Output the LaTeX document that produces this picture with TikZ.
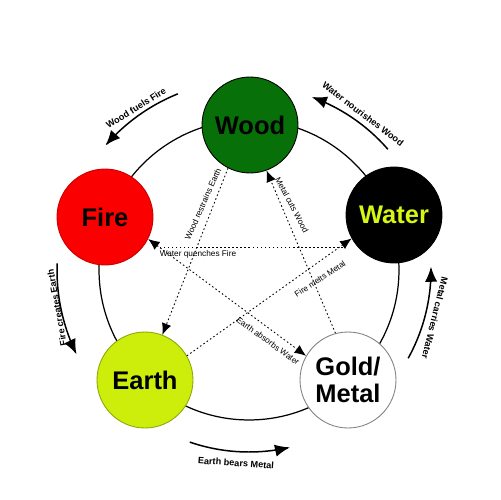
\documentclass[tikz,border=0pt]{standalone}
\usepackage{fontspec}
\setmainfont{Liberation Sans}
\usetikzlibrary{arrows.meta}
\definecolor{woodgreen}{RGB}{8,112,8}
\definecolor{firered}{RGB}{250,0,0}
\definecolor{earthyellow}{RGB}{204,238,10}
\definecolor{watertext}{RGB}{214,246,20}
\definecolor{metalgray}{RGB}{130,130,130}
\begin{document}
\begin{tikzpicture}[x=0.02cm,y=-0.02cm,
  elem/.style={circle, minimum size=1.92cm, inner sep=0pt, line width=0.5pt,
    font=\fontsize{14.5}{15.5}\selectfont\bfseries, align=center},
  ring/.style={line width=0.7pt},
  outarrow/.style={line width=0.85pt, -{Latex[length=8.5pt,width=7pt]}},
  ctrlline/.style={line width=0.5pt, dash pattern=on 0.9pt off 1.4pt},
  ctrlarrow/.style={ctrlline, -{Latex[length=6.5pt,width=5.5pt]}},
  ctrlboth/.style={ctrlline, {Latex[length=6.5pt,width=5.5pt]}-{Latex[length=6.5pt,width=5.5pt]}},
  outlabel/.style={font=\fontsize{5.2}{6}\selectfont\bfseries, inner sep=0pt},
  inlabel/.style={font=\fontsize{4.7}{5.5}\selectfont, inner sep=0pt}
]
\useasboundingbox (0,0) rectangle (500,500);
\fill[white] (0,0) rectangle (500,500);

% generating ring
\draw[ring] (249,270) circle[radius=3cm];

% elements
\node[elem, fill=woodgreen, draw=black] (wood) at (250,125) {Wood};
\node[elem, fill=firered, draw=firered!80!black] (fire) at (105,217) {Fire};
\node[elem, fill=black, draw=black, text=watertext] (water) at (394,215) {Water};
\node[elem, fill=earthyellow, draw=earthyellow!70!black] (earth) at (145,380) {Earth};
\node[elem, fill=white, draw=metalgray] (metal) at (348,380) {Gold/\\Metal};

% outer generating arrows
\draw[outarrow] plot[domain=112:139, samples=40, smooth] ({249+190*cos(\x)}, {270-190*sin(\x)});
\node[outlabel, rotate=32] (lwf) at (136,108) {Wood fuels Fire};

\draw[outarrow] plot[domain=41:70, samples=40, smooth] ({249+184*cos(\x)}, {270-184*sin(\x)});
\node[outlabel, rotate=-37] (lwn) at (363,114) {Water nourishes Wood};

\draw[outarrow] plot[domain=178:206, samples=40, smooth] ({249+192*cos(\x)}, {270-192*sin(\x)});
\node[outlabel, rotate=100] (lfc) at (57,308) {Fire creates Earth};

\draw[outarrow] plot[domain=-29:1, samples=40, smooth] ({249+182*cos(\x)}, {270-182*sin(\x)});
\node[outlabel, rotate=-104] (lmc) at (435,318) {Metal carries Water};

\draw[outarrow] plot[domain=-109:-77, samples=40, smooth] ({249+182*cos(\x)}, {270-182*sin(\x)});
\node[outlabel, rotate=-4] (leb) at (236,463) {Earth bears Metal};

% controlling lines
\coordinate (wqR) at (343,247);
\coordinate (wqL) at (158,247);
\draw[ctrlline] (wqR) -- (wqL);
\node[inlabel] (lwq) at (198,254) {Water quenches Fire};

\draw[ctrlboth] (fire.333) -- (metal.150);
\node[inlabel, rotate=-36] (lea) at (268,341) {Earth absorbs Water};

\draw[ctrlarrow] (earth.30) -- (water.209);
\node[inlabel, rotate=33] (lfm) at (320,279) {Fire melts Metal};

\draw[ctrlarrow] (wood.243) -- (earth.69);
\node[inlabel, rotate=66] (lwr) at (203,204) {Wood restrains Earth};

\draw[ctrlarrow] (metal.105) -- (wood.290);
\node[inlabel, rotate=-62] (lmw) at (292,205) {Metal cuts Wood};
\end{tikzpicture}
\end{document}
